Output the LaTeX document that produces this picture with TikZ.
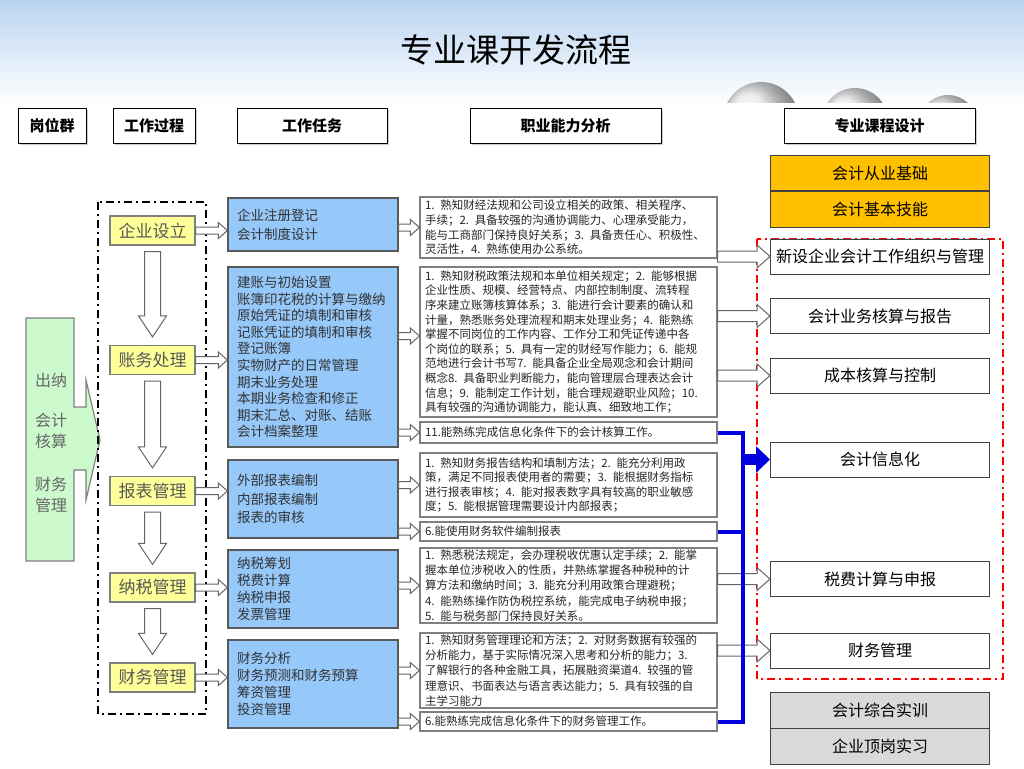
\documentclass[tikz,border=0pt]{standalone}
\usepackage{fontspec}
\setmainfont{Noto Sans CJK SC}
\usetikzlibrary{calc,arrows.meta,shadows}

\definecolor{skytop}{RGB}{185,212,240}
\definecolor{taskblue}{RGB}{150,200,250}
\definecolor{stageyellow}{RGB}{255,255,153}
\definecolor{goldbox}{RGB}{255,192,0}
\definecolor{postgreen}{RGB}{204,250,204}
\definecolor{busblue}{RGB}{0,0,225}

\tikzset{
  head/.style={draw=black, line width=1pt, fill=white, minimum height=35pt,
    font=\bfseries\fontsize{15}{18}\selectfont,
    drop shadow={shadow xshift=2pt, shadow yshift=-2pt, opacity=0.4}},
  stage/.style={draw=gray, line width=1.2pt, fill=stageyellow, minimum width=85pt,
    minimum height=29pt, text=black!65, font=\fontsize{17}{20}\selectfont},
  task/.style={draw=gray!70!black, line width=1.2pt, fill=taskblue, minimum width=170pt,
    text width=152pt, align=left, text=black!80, font=\fontsize{13.5}{17}\selectfont},
  skill/.style={draw=gray, line width=1.2pt, fill=white, minimum width=297pt,
    text width=287pt, inner ysep=1pt, align=left, text=black!85,
    font=\fontsize{11.5}{14.6}\selectfont},
  course/.style={draw=black!75, line width=1pt, fill=white, minimum width=219pt,
    minimum height=35pt, font=\fontsize{16}{19}\selectfont},
  harrow/.style n args={3}{draw=gray!80!black, fill=white, line width=1pt,
    to path={let \p1=(\tikztostart), \p2=(\tikztotarget) in
      (\x1,\y1+#1) -- (\x2-#3,\y1+#1) -- (\x2-#3,\y1+#2) -- (\x2,\y1)
      -- (\x2-#3,\y1-#2) -- (\x2-#3,\y1-#1) -- (\x1,\y1-#1) -- cycle}},
  smallarrow/.style={harrow={3.5pt}{8pt}{9pt}},
  bigarrow/.style={harrow={5.5pt}{11.5pt}{13pt}},
  downarrow/.style={draw=gray!80!black, fill=white, line width=1pt,
    to path={let \p1=(\tikztostart), \p2=(\tikztotarget) in
      (\x1-8pt,\y1) -- (\x1-8pt,\y2+21pt) -- (\x1-14pt,\y2+21pt) -- (\x1,\y2)
      -- (\x1+14pt,\y2+21pt) -- (\x1+8pt,\y2+21pt) -- (\x1+8pt,\y1) -- cycle}},
  busline/.style={busblue, line width=4pt},
  dashdot/.style={line width=2.5pt, dash pattern=on 8pt off 4pt on 2pt off 4pt},
}

\begin{document}
\begin{tikzpicture}[x=1pt, y=-1pt]
  \useasboundingbox (0,0) rectangle (1024,768);
  \fill[white] (0,0) rectangle (1024,768);
  \shade[top color=skytop, bottom color=white] (0,0) rectangle (1024,105);
  \begin{scope}
    \clip (700,0) rectangle (1010,102);
    \shade[ball color=gray!25, opacity=0.8] (761,120) circle (38);
    \shade[ball color=gray!25, opacity=0.8] (855,121) circle (33);
    \shade[ball color=gray!25, opacity=0.8] (948,124) circle (29);
  \end{scope}

  \node[font=\fontsize{33}{36}\selectfont] (title) at (516,50) {专业课开发流程};

  % column heads
  \node[head, minimum width=68pt] (hgroup) at (52,125.5) {岗位群};
  \node[head, minimum width=82pt] (hprocess) at (154,125.5) {工作过程};
  \node[head, minimum width=150pt] (htask) at (312,125.5) {工作任务};
  \node[head, minimum width=191pt] (hskill) at (565.5,125.5) {职业能力分析};
  \node[head, minimum width=191pt] (hcourse) at (879.5,125.5) {专业课程设计};

  % post group
  \draw[draw=gray, fill=postgreen, line width=1.2pt] (26,318) -- (74,318) -- (74,407)
    -- (86,407) -- (86,380) -- (100,440) -- (86,500) -- (86,470) -- (74,470)
    -- (74,561) -- (26,561) -- cycle;
  \node[align=left, text=black!60, font=\fontsize{16}{21}\selectfont] (posts) at (51,443)
    {出纳\\[19pt]会计\\核算\\[22pt]财务\\管理};

  % work process
  \draw[dashdot] (98,202) rectangle (206,714);
  \node[stage] (s1) at (152.5,230.5) {企业设立};
  \node[stage] (s2) at (152.5,360) {账务处理};
  \node[stage] (s3) at (152.5,491) {报表管理};
  \node[stage] (s4) at (152.5,587.5) {纳税管理};
  \node[stage] (s5) at (152.5,677.5) {财务管理};

  % work tasks
  \node[task, minimum height=53pt, font=\fontsize{13.5}{19}\selectfont] (t1) at (313,224.5)
    {企业注册登记\\会计制度设计};
  \node[task, minimum height=180pt, font=\fontsize{13.5}{16.6}\selectfont] (t2) at (313,357)
    {建账与初始设置\\账簿印花税的计算与缴纳\\原始凭证的填制和审核\\记账凭证的填制和审核\\登记账簿\\实物财产的日常管理\\期末业务处理\\本期业务检查和修正\\期末汇总、对账、结账\\会计档案整理};
  \node[task, minimum height=78pt, font=\fontsize{13.5}{18.5}\selectfont] (t3) at (313,499)
    {外部报表编制\\内部报表编制\\报表的审核};
  \node[task, minimum height=78pt] (t4) at (313,589)
    {纳税筹划\\税费计算\\纳税申报\\发票管理};
  \node[task, minimum height=88pt] (t5) at (313,684)
    {财务分析\\财务预测和财务预算\\筹资管理\\投资管理};

  % skill analysis
  \node[skill, minimum height=61pt] (a1) at (568.5,227.5)
    {1. 熟知财经法规和公司设立相关的政策、相关程序、\\手续；2. 具备较强的沟通协调能力、心理承受能力，\\能与工商部门保持良好关系；3. 具备责任心、积极性、\\灵活性，4. 熟练使用办公系统。};
  \node[skill, minimum height=150pt] (a2) at (568.5,342)
    {1. 熟知财税政策法规和本单位相关规定；2. 能够根据\\企业性质、规模、经营特点、内部控制制度、流转程\\序来建立账簿核算体系；3. 能进行会计要素的确认和\\计量，熟悉账务处理流程和期末处理业务；4. 能熟练\\掌握不同岗位的工作内容、工作分工和凭证传递中各\\个岗位的联系；5. 具有一定的财经写作能力；6. 能规\\范地进行会计书写7. 能具备企业全局观念和会计期间\\概念8. 具备职业判断能力，能向管理层合理表达会计\\信息；9. 能制定工作计划，能合理规避职业风险；10.\\具有较强的沟通协调能力，能认真、细致地工作；};
  \node[skill, minimum height=21pt] (a2b) at (568.5,432.5)
    {11.能熟练完成信息化条件下的会计核算工作。};
  \node[skill, minimum height=64pt] (a3) at (568.5,485)
    {1. 熟知财务报告结构和填制方法；2. 能充分利用政\\策，满足不同报表使用者的需要；3. 能根据财务指标\\进行报表审核；4. 能对报表数字具有较高的职业敏感\\度；5. 能根据管理需要设计内部报表；};
  \node[skill, minimum height=19pt] (a3b) at (568.5,531.5)
    {6.能使用财务软件编制报表};
  \node[skill, minimum height=75pt, font=\fontsize{11.5}{15.2}\selectfont] (a4) at (568.5,585.5)
    {1. 熟悉税法规定，会办理税收优惠认定手续；2. 能掌\\握本单位涉税收入的性质，并熟练掌握各种税种的计\\算方法和缴纳时间；3. 能充分利用政策合理避税；\\4. 能熟练操作防伪税控系统，能完成电子纳税申报；\\5. 能与税务部门保持良好关系。};
  \node[skill, minimum height=75pt, font=\fontsize{11.5}{15.2}\selectfont] (a5) at (568.5,670.5)
    {1. 熟知财务管理理论和方法；2. 对财务数据有较强的\\分析能力，基于实际情况深入思考和分析的能力；3.\\了解银行的各种金融工具，拓展融资渠道4. 较强的管\\理意识、书面表达与语言表达能力；5. 具有较强的自\\主学习能力};
  \node[skill, minimum height=19pt] (a5b) at (568.5,721.5)
    {6.能熟练完成信息化条件下的财务管理工作。};

  % course design
  \node[course, fill=goldbox] (base1) at (880,173) {会计从业基础};
  \node[course, fill=goldbox, minimum height=36pt] (base2) at (880,209) {会计基本技能};
  \draw[red, dashdot, line width=2pt] (757,239) rectangle (1003,679);
  \node[course] (c1) at (880,256.5) {新设企业会计工作组织与管理};
  \node[course] (c2) at (880,316) {会计业务核算与报告};
  \node[course] (c3) at (880,375.5) {成本核算与控制};
  \node[course] (c4) at (880,459.5) {会计信息化};
  \node[course] (c5) at (880,579) {税费计算与申报};
  \node[course] (c6) at (880,650.5) {财务管理};
  \node[course, fill=black!15, minimum height=36pt] (p1) at (880,710) {会计综合实训};
  \node[course, fill=black!15, minimum height=36pt] (p2) at (880,746) {企业顶岗实习};

  % connectors
  \foreach \i/\j in {1/2,2/3,3/4,4/5}
    \draw[downarrow] ([yshift=-6pt]s\i.south) to ([yshift=8pt]s\j.north);
  \foreach \i in {1,...,5}
    \draw[smallarrow] (s\i.east) to (t\i.west);

  \draw[smallarrow] (t1.east |- a1.west) to (a1.west);
  \draw[smallarrow] ([yshift=6pt]t2.east |- a2.west) to (a2.west);
  \draw[smallarrow] (t2.east |- a2b.west) to (a2b.west);
  \draw[smallarrow] (t3.east |- a3.west) to (a3.west);
  \draw[smallarrow] (t3.east |- a3b.west) to (a3b.west);
  \draw[smallarrow] (t4.east |- a4.west) to (a4.west);
  \draw[smallarrow] (t5.east |- a5.west) to (a5.west);
  \draw[smallarrow] (t5.east |- a5b.west) to (a5b.west);

  \draw[bigarrow] (a1.east |- c1.west) to (c1.west);
  \draw[bigarrow] (a2.east |- c2.west) to (c2.west);
  \draw[bigarrow] (a2.east |- c3.west) to (c3.west);
  \draw[bigarrow] (a4.east |- c5.west) to (c5.west);
  \draw[bigarrow] (a5.east |- c6.west) to (c6.west);

  \coordinate (bus) at (743,459.5);
  \draw[busline] (a2b.east) -- (a2b.east -| bus) -- (a5b.east -| bus) -- (a5b.east);
  \draw[busline] (a3b.east) -- (a3b.east -| bus);
  \draw[busblue, line width=11pt, -{Triangle[length=14pt, width=26pt]}] (bus) -- (c4.west);
\end{tikzpicture}
\end{document}
